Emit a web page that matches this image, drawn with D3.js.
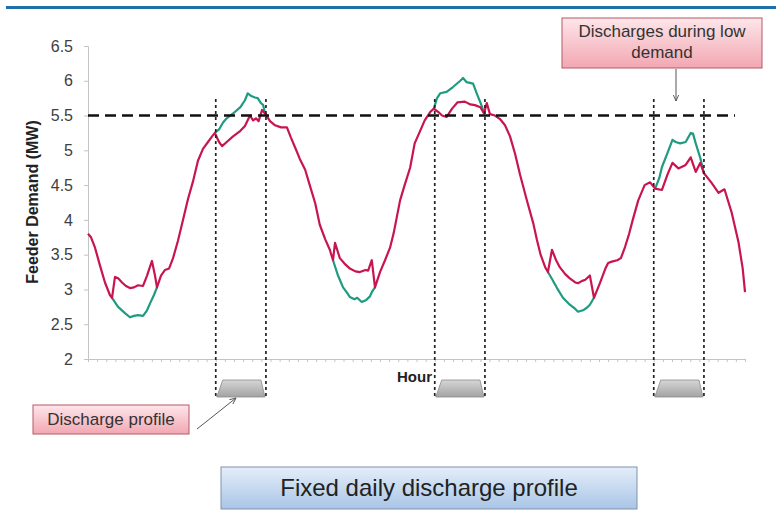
<!DOCTYPE html>
<html>
<head>
<meta charset="utf-8">
<script src="https://cdn.jsdelivr.net/npm/d3@7"></script>
<style>
  body { margin: 0; background: #fff; }
  svg { display: block; font-family: "Liberation Sans", Arial, sans-serif; }
</style>
</head>
<body>
<script>
/***********************************************************************************/
// Data (hours, feeder demand in MW)

var hours = [0,0.33,0.77,1.3,1.86,2.4,2.63,2.96,3.3,3.73,4.16,4.6,5.04,5.48,6.03,6.47,7.01,7.34,7.56,8,8.44,8.88,9.32,9.86,10.41,10.96,11.5,12.05,12.6,13.15,13.6,13.9,14.36,14.7,15.2,15.9,16.7,17.2,17.75,18.1,18.4,18.7,19.07,19.4,19.95,20.5,21.15,21.8,22.25,22.7,23.2,23.8,24.3,24.9,25.4,26,26.5,26.85,27.07,27.6,28.2,28.7,29.3,29.8,30.4,30.7,31.1,31.45,32,32.55,33.1,33.5,34.2,34.7,35.3,35.8,36.4,36.9,37.5,37.9,38.4,38.8,39.3,39.9,40.5,41.3,41.9,42.4,43,43.4,43.7,44.05,44.6,45.15,45.7,46.25,46.8,47.35,48.1,48.8,49.2,49.6,50.1,50.4,50.85,51.3,51.7,52.3,52.8,53.4,53.7,54.1,54.5,55,55.45,56.1,56.7,57,57.4,58,58.4,58.85,59.3,59.7,60.3,61,61.6,62.15,62.9,63.5,64.05,64.7,65.5,66.05,66.6,67.1,67.5,68.3,69.1,69.75,70.55,71.3,71.75,72];
var demand = [3.8,3.75,3.6,3.35,3.1,2.92,2.88,3.18,3.16,3.1,3.05,3.02,3.03,3.06,3.05,3.2,3.41,3.2,3.03,3.2,3.28,3.3,3.45,3.7,4,4.3,4.55,4.85,5.02,5.12,5.2,5.25,5.12,5.06,5.12,5.2,5.28,5.35,5.5,5.43,5.46,5.42,5.58,5.53,5.42,5.36,5.33,5.33,5.18,5.04,4.88,4.72,4.5,4.24,3.93,3.72,3.57,3.42,3.67,3.45,3.36,3.3,3.26,3.25,3.28,3.27,3.42,3.03,3.25,3.42,3.6,3.81,4.28,4.5,4.75,5.1,5.28,5.43,5.55,5.6,5.55,5.5,5.48,5.6,5.69,5.7,5.66,5.65,5.62,5.53,5.68,5.52,5.5,5.45,5.36,5.2,4.95,4.65,4.28,3.95,3.71,3.5,3.32,3.25,3.57,3.42,3.32,3.22,3.16,3.1,3.09,3.12,3.14,3.2,2.88,3.09,3.3,3.38,3.4,3.42,3.45,3.61,3.8,4,4.28,4.5,4.54,4.45,4.43,4.65,4.82,4.74,4.79,4.9,4.69,4.82,4.67,4.54,4.39,4.44,4.1,3.67,3.3,2.96];

// profile where it departs from the demand curve (null = gap)
var altHours = [2.63,3.3,4.05,4.6,5.04,5.48,6.03,6.47,6.8,7.23,7.56,null,
  13.9,14.36,14.8,15.2,15.9,16.7,17.2,17.5,17.9,18.3,18.6,18.95,19.2,19.4,null,
  26.85,27.4,27.95,28.4,28.7,29.2,29.5,30,30.5,30.9,31.1,31.45,null,
  37.9,38.25,38.6,39.3,40,40.8,41.1,41.5,42.2,42.6,43.2,43.4,null,
  50.4,50.85,51.4,52.05,52.8,53.4,53.7,54.25,54.7,55,55.45,null,
  62.15,62.6,62.9,63.5,64.05,64.4,64.9,65.5,66.05,66.3,66.6,67.1,67.5];
var altDemand = [2.88,2.75,2.66,2.6,2.62,2.63,2.62,2.7,2.8,2.92,3.03,null,
  5.25,5.3,5.4,5.46,5.53,5.62,5.72,5.82,5.78,5.76,5.75,5.68,5.65,5.53,null,
  3.42,3.2,3.03,2.95,2.89,2.86,2.88,2.82,2.85,2.9,2.96,3.03,null,
  5.6,5.75,5.82,5.84,5.91,6,6.04,5.98,5.96,5.82,5.62,5.53,null,
  3.25,3.15,3.02,2.88,2.78,2.72,2.68,2.7,2.74,2.78,2.88,null,
  4.45,4.6,4.76,4.96,5.15,5.12,5.1,5.12,5.25,5.24,5.1,4.89,4.67];

var yTicks = [2,2.5,3,3.5,4,4.5,5,5.5,6,6.5];
var threshold = 5.5;
var dischargeStart = [14, 38, 62];
var dischargeEnd = [19.5, 43.5, 67.5];

/***********************************************************************************/
// Setup

var W = 776, H = 515;
var svg = d3.select('body').append('svg').attr('width', W).attr('height', H);
var defs = svg.append('defs');

function vgrad(id, c0, c1){
  var g = defs.append('linearGradient').attr('id', id).attr('x1', 0).attr('y1', 0).attr('x2', 0).attr('y2', 1);
  g.append('stop').attr('offset', '0%').attr('stop-color', c0);
  g.append('stop').attr('offset', '100%').attr('stop-color', c1);
}
vgrad('pink', '#fde6ea', '#f2a7b2');
vgrad('blue', '#e4eef9', '#a9c5e6');
vgrad('grey', '#d6d6d6', '#a3a3a3');

var x = d3.scaleLinear().domain([0, 72]).range([88, 745]);
var y = d3.scaleLinear().domain([2, 6.5]).range([359, 46]);

// top rule
svg.append('rect').attr('x', 6).attr('y', 6).attr('width', W - 6).attr('height', 3).attr('fill', '#1f6fa8');

/***********************************************************************************/
// Axes

var yAxis = svg.append('g').attr('transform', 'translate(' + x(0) + ',0)')
  .call(d3.axisLeft(y).tickValues(yTicks).tickSize(4).tickPadding(11).tickFormat(d3.format('')));
yAxis.select('.domain').attr('stroke', '#c4c4c4');
yAxis.selectAll('.tick line').attr('stroke', '#c4c4c4');
yAxis.selectAll('.tick text').attr('font-size', 16).attr('fill', '#404040');

var xAxis = svg.append('g').attr('transform', 'translate(0,' + y(2) + ')')
  .call(d3.axisBottom(x).tickValues(d3.range(0, 73, 1)).tickSize(3).tickFormat(''));
xAxis.select('.domain').attr('stroke', '#c4c4c4');
xAxis.selectAll('.tick line').attr('stroke', '#c4c4c4');

svg.append('text').attr('transform', 'translate(38,202) rotate(-90)')
  .attr('text-anchor', 'middle').attr('font-size', 16).attr('font-weight', 'bold').attr('fill', '#222')
  .text('Feeder Demand (MW)');

svg.append('text').attr('x', 397).attr('y', 382)
  .attr('font-size', 15).attr('font-weight', 'bold').attr('fill', '#222').text('Hour');

/***********************************************************************************/
// Lines

var altLine = d3.line().defined(function(d){ return d[1] != null; })
  .x(function(d){ return x(d[0]); }).y(function(d){ return y(d[1]); });
svg.append('path').datum(d3.zip(altHours, altDemand))
  .attr('d', altLine).attr('fill', 'none').attr('stroke', '#1e9b80').attr('stroke-width', 2.2).attr('stroke-linejoin', 'round');

var line = d3.line().x(function(d){ return x(d[0]); }).y(function(d){ return y(d[1]); });
svg.append('path').datum(d3.zip(hours, demand))
  .attr('d', line).attr('fill', 'none').attr('stroke', '#c8154f').attr('stroke-width', 2.2).attr('stroke-linejoin', 'round');

// threshold
svg.append('line').attr('x1', x(0)).attr('x2', 735).attr('y1', y(threshold)).attr('y2', y(threshold))
  .attr('stroke', '#111').attr('stroke-width', 2.5).attr('stroke-dasharray', '11,6');

/***********************************************************************************/
// Discharge windows

var win = d3.zip(dischargeStart, dischargeEnd);
win.forEach(function(w){
  var a = x(w[0]), b = x(w[1]);
  svg.append('path')
    .attr('d', 'M' + (a + 7) + ',380 L' + (b - 5) + ',380 L' + (b - 1) + ',397 L' + (a + 1) + ',397 Z')
    .attr('fill', 'url(#grey)').attr('stroke', '#8a8a8a').attr('stroke-width', 0.8);
  [a, b].forEach(function(px){
    svg.append('line').attr('x1', px).attr('x2', px).attr('y1', 99).attr('y2', 398)
      .attr('stroke', '#222').attr('stroke-width', 1.7).attr('stroke-dasharray', '3,3');
  });
});

/***********************************************************************************/
// Callouts

defs.append('marker').attr('id', 'arr').attr('viewBox', '0 0 10 10').attr('refX', 9).attr('refY', 5)
  .attr('markerWidth', 7).attr('markerHeight', 7).attr('orient', 'auto')
  .append('path').attr('d', 'M0,1 L9,5 L0,9').attr('fill', 'none').attr('stroke', '#555').attr('stroke-width', 1.3);

svg.append('rect').attr('x', 562).attr('y', 18).attr('width', 200).attr('height', 50)
  .attr('fill', 'url(#pink)').attr('stroke', '#b65a66').attr('stroke-width', 1);
svg.append('text').attr('x', 662).attr('y', 37).attr('text-anchor', 'middle').attr('font-size', 17).attr('fill', '#333')
  .text('Discharges during low');
svg.append('text').attr('x', 662).attr('y', 58).attr('text-anchor', 'middle').attr('font-size', 17).attr('fill', '#333')
  .text('demand');
svg.append('line').attr('x1', 676).attr('y1', 69).attr('x2', 676).attr('y2', 101)
  .attr('stroke', '#555').attr('stroke-width', 1).attr('marker-end', 'url(#arr)');

svg.append('rect').attr('x', 33).attr('y', 405).attr('width', 156).attr('height', 29)
  .attr('fill', 'url(#pink)').attr('stroke', '#b65a66').attr('stroke-width', 1);
svg.append('text').attr('x', 111).attr('y', 425).attr('text-anchor', 'middle').attr('font-size', 17).attr('fill', '#333')
  .text('Discharge profile');
svg.append('line').attr('x1', 197).attr('y1', 429).attr('x2', 236).attr('y2', 398)
  .attr('stroke', '#555').attr('stroke-width', 1).attr('marker-end', 'url(#arr)');

svg.append('rect').attr('x', 221).attr('y', 467).attr('width', 416).attr('height', 42)
  .attr('fill', 'url(#blue)').attr('stroke', '#7f93aa').attr('stroke-width', 1);
svg.append('text').attr('x', 429).attr('y', 496).attr('text-anchor', 'middle').attr('font-size', 24).attr('fill', '#222')
  .text('Fixed daily discharge profile');
</script>
</body>
</html>
